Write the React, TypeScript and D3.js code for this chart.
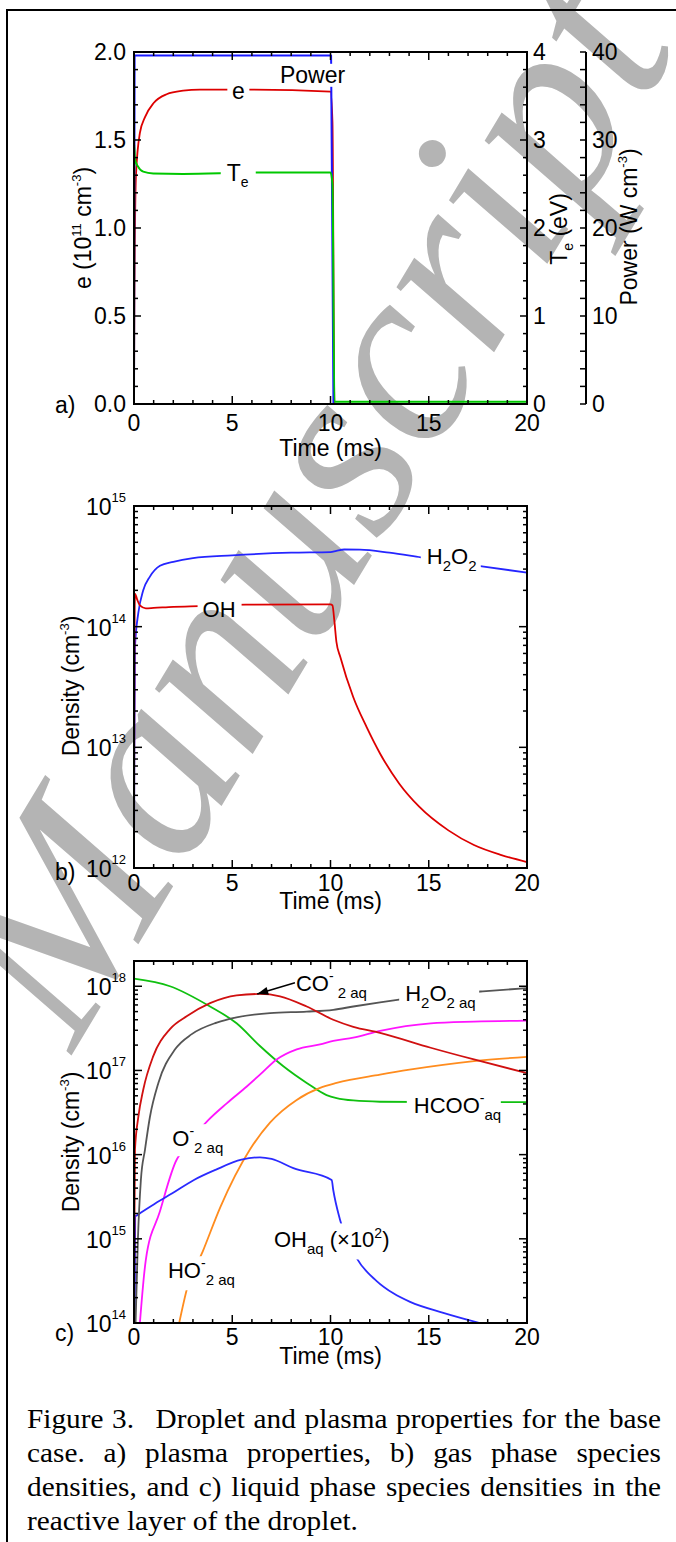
import { useLayoutEffect, useRef, useState } from "react";
import * as d3 from "d3";

const W = 676;
const H = 1542;
const SANS = "Liberation Sans, Arimo, Arial, Helvetica, sans-serif";
const SERIF = "Liberation Serif, Tinos, Times New Roman, serif";

// ---------- axes ----------
const xMajor = [0, 5, 10, 15, 20];
const eTicks = [0, 0.5, 1, 1.5, 2];
const eTickLabels = ["0.0", "0.5", "1.0", "1.5", "2.0"];
const teTicks = [0, 1, 2, 3, 4];
const powerTicks = [0, 10, 20, 30, 40];
const bDecades = [12, 13, 14, 15];
const cDecades = [14, 15, 16, 17, 18];

// ---------- a) plasma properties ----------
const eTime = [0, 0.02, 0.05, 0.1, 0.3, 0.56, 1.0, 1.66, 2.5, 3.35, 5.8, 10.0, 10.1, 10.2, 20];
const eVal = [0, 0.6, 1.0, 1.3, 1.54, 1.63, 1.71, 1.76, 1.78, 1.786, 1.786, 1.775, 1.6, 0, 0];
const teTime = [0, 0.01, 0.05, 0.2, 0.47, 0.98, 2.5, 6.2, 10.0, 10.1, 10.2, 20];
const teVal = [0, 2.95, 2.78, 2.7, 2.64, 2.62, 2.615, 2.63, 2.63, 2.5, 0.025, 0.025];
const powTime = [0, 0.03, 10.03, 10.15, 20];
const powVal = [0, 39.6, 39.6, 0, 0];

// ---------- b) gas phase ----------
const h2o2Time = [0, 0.02, 0.05, 0.22, 0.47, 0.81, 1.32, 2, 3, 5, 8, 10, 10.3, 10.7, 11.5, 13, 14.6, 17.8, 20];
const h2o2Val = [1e12, 1e13, 6.8e13, 1.3e14, 2.0e14, 2.6e14, 3.2e14, 3.45e14, 3.7e14, 3.9e14, 4.1e14, 4.15e14, 4.25e14, 4.36e14, 4.35e14, 4.1e14, 3.75e14, 3.15e14, 2.8e14];
const ohTime = [0, 0.02, 0.05, 0.15, 0.3, 0.6, 1, 2, 3.3, 5.7, 10, 10.1, 10.2, 10.3, 10.5, 11.16, 11.84, 12.52, 13.5, 14.5, 16, 17.3, 18.7, 20];
const ohVal = [1e12, 5e13, 1.88e14, 1.7e14, 1.5e14, 1.42e14, 1.43e14, 1.46e14, 1.48e14, 1.52e14, 1.53e14, 1.5e14, 1.1e14, 7.5e13, 5.6e13, 2.6e13, 1.47e13, 8.9e12, 5.0e12, 3.24e12, 2.05e12, 1.55e12, 1.28e12, 1.12e12];

// ---------- c) liquid phase ----------
const co2Time = [0, 0.02, 0.05, 0.22, 0.47, 0.98, 1.83, 2.68, 3.87, 5.22, 6.41, 7.43, 8.79, 10.14, 11.16, 12.52, 15.1, 17.3, 20];
const co2Val = [1e14, 1e15, 1.15e16, 2.8e16, 5.9e16, 1.48e17, 3.1e17, 4.4e17, 6.3e17, 7.8e17, 8.1e17, 7.6e17, 5.75e17, 4.0e17, 3.3e17, 2.8e17, 1.86e17, 1.35e17, 9.3e16];
const h2o2aqTime = [0.08, 0.2, 0.35, 0.56, 0.81, 1.24, 2.09, 2.94, 4.21, 5.22, 6.92, 8.79, 10.14, 11.16, 12.52, 13.4, 17.75, 20];
const h2o2aqVal = [1e14, 1e15, 5e15, 1.15e16, 2.8e16, 7.1e16, 1.78e17, 2.7e17, 3.7e17, 4.27e17, 4.8e17, 5.0e17, 5.25e17, 5.75e17, 6.45e17, 6.9e17, 8.7e17, 9.5e17];
const hcooTime = [0, 1.83, 3.87, 5.22, 6.41, 7.6, 8.79, 9.8, 10.31, 11.16, 12.52, 16, 20];
const hcooVal = [1.23e18, 1.0e18, 5.75e17, 3.63e17, 1.95e17, 1.12e17, 7.1e16, 5.1e16, 4.7e16, 4.4e16, 4.25e16, 4.2e16, 4.2e16];
const o2Time = [0.3, 0.6, 1.3, 2.17, 2.39, 3.78, 4.72, 5.74, 6.41, 7.26, 8.28, 9.47, 10.14, 11.16, 12.52, 15.1, 17.3, 20];
const o2Val = [1e14, 5.6e14, 2.05e15, 8.7e15, 1.05e16, 2.57e16, 4.07e16, 6.45e16, 8.9e16, 1.35e17, 1.78e17, 2.04e17, 2.24e17, 2.45e17, 2.95e17, 3.63e17, 3.8e17, 3.9e17];
const ho2Time = [2.3, 2.7, 3.5, 4.4, 5.9, 6.92, 8.28, 9.47, 10.31, 12.52, 14.02, 17.3, 20];
const ho2Val = [1e14, 2.57e14, 7.1e14, 2.4e15, 1.15e16, 2.4e16, 4.47e16, 6.2e16, 7.1e16, 8.9e16, 1.02e17, 1.29e17, 1.45e17];
const ohaqTime = [0.04, 0.06, 0.15, 0.42, 1.08, 1.95, 3.05, 4.15, 5.47, 6.41, 7.0, 8.11, 10.06, 10.14, 10.48, 11.33, 12.35, 13.2, 14.05, 15.74, 17.6, 20];
const ohaqVal = [1e14, 1.86e15, 1.9e15, 2.1e15, 2.63e15, 3.47e15, 5.0e15, 6.6e15, 8.7e15, 9.3e15, 8.9e15, 6.9e15, 5.0e15, 3.8e15, 1.7e15, 5.9e14, 3.15e14, 2.25e14, 1.78e14, 1.32e14, 1.0e14, 7.4e13];

const captionLines = [
  "Figure 3.  Droplet and plasma properties for the base",
  "case. a) plasma properties, b) gas phase species",
  "densities, and c) liquid phase species densities in the",
  "reactive layer of the droplet.",
];

// ---------- layout ----------
const X0 = 134;
const X1 = 527;
const x = d3.scaleLinear().domain([0, 20]).range([X0, X1]);

const A_TOP = 52, A_BOT = 404;
const B_TOP = 506, B_BOT = 868;
const C_TOP = 961, C_BOT = 1323;

const yE = d3.scaleLinear().domain([0, 2]).range([A_BOT, A_TOP]);
const yTe = d3.scaleLinear().domain([0, 4]).range([A_BOT, A_TOP]);
const yP = d3.scaleLinear().domain([0, 40]).range([A_BOT, A_TOP]);
const yB = d3.scaleLog().domain([1e12, 1e15]).range([B_BOT, B_TOP]);
const yC = d3.scaleLog().domain([1e14, Math.pow(10, 18.3)]).range([C_BOT, C_TOP]);

type Scale = (v: number) => number;

function Curve({ ts, vs, y, color, width = 1.8, linear = false }: { ts: number[]; vs: number[]; y: Scale; color: string; width?: number; linear?: boolean }) {
  const pts = ts.map((t, i) => [t, vs[i]] as [number, number]);
  const d = d3
    .line<[number, number]>()
    .x((p) => x(p[0]))
    .y((p) => y(p[1]))
    .curve(linear ? d3.curveLinear : d3.curveMonotoneX)(pts);
  return <path d={d ?? ""} fill="none" stroke={color} strokeWidth={width} strokeLinejoin="round" />;
}

function XAxis({ top, bot, labelY, titleY }: { top: number; bot: number; labelY: number; titleY: number }) {
  return (
    <g>
      {d3.range(0, 21).map((v) => {
        const len = xMajor.includes(v) ? 8 : 4;
        return (
          <g key={v} stroke="#000" strokeWidth={1.5}>
            <line x1={x(v)} x2={x(v)} y1={bot} y2={bot - len} />
            <line x1={x(v)} x2={x(v)} y1={top} y2={top + len} />
          </g>
        );
      })}
      {xMajor.map((v) => (
        <text key={v} x={x(v)} y={labelY} textAnchor="middle" fontSize={23}>
          {v}
        </text>
      ))}
      <text x={x(10)} y={titleY} textAnchor="middle" fontSize={23}>
        Time (ms)
      </text>
    </g>
  );
}

function LogYAxis({ y, decades }: { y: any; decades: number[] }) {
  const ticks: number[] = y.ticks();
  return (
    <g>
      {ticks.map((v, i) => {
        const major = Math.abs(Math.log10(v) - Math.round(Math.log10(v))) < 1e-6;
        const len = major ? 8 : 4;
        return (
          <g key={i} stroke="#000" strokeWidth={1.5}>
            <line x1={X0} x2={X0 + len} y1={y(v)} y2={y(v)} />
            <line x1={X1} x2={X1 - len} y1={y(v)} y2={y(v)} />
          </g>
        );
      })}
      {decades.map((p) => (
        <text key={p} x={126} y={y(Math.pow(10, p)) + 9} textAnchor="end" fontSize={23}>
          10
          <tspan dy={-13} fontSize={13}>
            {p}
          </tspan>
        </text>
      ))}
    </g>
  );
}

function Gaps({ id, boxes }: { id: string; boxes: number[][] }) {
  return (
    <mask id={id} maskUnits="userSpaceOnUse" x={0} y={0} width={W} height={H}>
      <rect x={0} y={0} width={W} height={H} fill="#fff" />
      {boxes.map((b, i) => (
        <rect key={i} x={b[0]} y={b[1]} width={b[2]} height={b[3]} fill="#000" />
      ))}
    </mask>
  );
}

function PanelA() {
  const pw = [x(7.43), yP(36.5)];
  const ee = [x(5.31), yE(1.733)];
  const te = [x(4.72), yTe(2.537)];
  return (
    <g>
      <defs>
        <clipPath id="clipA">
          <rect x={X0 - 1} y={A_TOP - 1} width={X1 - X0 + 2} height={A_BOT - A_TOP + 2} />
        </clipPath>
        <Gaps
          id="gapA"
          boxes={[
            [pw[0] - 3, pw[1] - 19, 74, 23],
            [ee[0] - 11, ee[1] - 17, 22, 20],
            [te[0] - 6, te[1] - 21, 35, 27],
          ]}
        />
      </defs>
      <g clipPath="url(#clipA)">
        <g mask="url(#gapA)">
          <Curve ts={eTime} vs={eVal} y={yE} color="#dd0000" />
          <Curve ts={powTime} vs={powVal} y={yP} color="#1a1aff" width={2} linear />
          <Curve ts={teTime} vs={teVal} y={yTe} color="#00c800" width={2} />
        </g>
      </g>
      <rect x={X0} y={A_TOP} width={X1 - X0} height={A_BOT - A_TOP} fill="none" stroke="#000" strokeWidth={2} />
      <XAxis top={A_TOP} bot={A_BOT} labelY={431} titleY={456} />
      {d3.range(0, 21).map((i) => {
        const v = i / 10;
        const len = i % 5 === 0 ? 7 : 4;
        return (
          <g key={i} stroke="#000" strokeWidth={1.5}>
            <line x1={X0} x2={X0 + len} y1={yE(v)} y2={yE(v)} />
            <line x1={X1} x2={X1 - len} y1={yE(v)} y2={yE(v)} />
            <line x1={586} x2={580} y1={yE(v)} y2={yE(v)} />
          </g>
        );
      })}
      <line x1={586} x2={586} y1={A_TOP} y2={A_BOT} stroke="#000" strokeWidth={2} />
      {eTicks.map((v, i) => (
        <text key={v} x={126} y={yE(v) + 8} textAnchor="end" fontSize={23}>
          {eTickLabels[i]}
        </text>
      ))}
      {teTicks.map((v) => (
        <text key={v} x={533} y={yTe(v) + 8} fontSize={23}>
          {v}
        </text>
      ))}
      {powerTicks.map((v) => (
        <text key={v} x={592} y={yP(v) + 8} fontSize={23}>
          {v}
        </text>
      ))}
      <text transform="translate(91,228) rotate(-90)" textAnchor="middle" fontSize={23}>
        e (10
        <tspan dy={-10} fontSize={13}>11</tspan>
        <tspan dy={10}> cm</tspan>
        <tspan dy={-10} fontSize={13}>-3</tspan>
        <tspan dy={10}>)</tspan>
      </text>
      <text transform="translate(567,229) rotate(-90)" textAnchor="middle" fontSize={23}>
        T<tspan dy={6} fontSize={14}>e</tspan>
        <tspan dy={-6}> (eV)</tspan>
      </text>
      <text transform="translate(637,227) rotate(-90)" textAnchor="middle" fontSize={23}>
        Power (W cm<tspan dy={-10} fontSize={13}>-3</tspan>
        <tspan dy={10}>)</tspan>
      </text>
      <text x={pw[0]} y={pw[1]} fontSize={23}>Power</text>
      <text x={ee[0]} y={ee[1]} fontSize={23} textAnchor="middle">e</text>
      <text x={te[0]} y={te[1]} fontSize={23}>
        T<tspan dy={6} fontSize={14}>e</tspan>
      </text>
      <text x={55} y={413} fontSize={23}>a)</text>
    </g>
  );
}

function PanelB() {
  const oh = [x(3.49), yB(1.2e14)];
  const hp = [x(14.9), yB(3.3e14)];
  return (
    <g>
      <defs>
        <clipPath id="clipB">
          <rect x={X0 - 1} y={B_TOP - 1} width={X1 - X0 + 2} height={B_BOT - B_TOP + 2} />
        </clipPath>
        <Gaps
          id="gapB"
          boxes={[
            [oh[0] - 5, oh[1] - 20, 44, 24],
            [hp[0] - 6, hp[1] - 20, 60, 29],
          ]}
        />
      </defs>
      <g clipPath="url(#clipB)">
        <g mask="url(#gapB)">
          <Curve ts={h2o2Time} vs={h2o2Val} y={yB} color="#2525ff" />
          <Curve ts={ohTime} vs={ohVal} y={yB} color="#dd0000" />
        </g>
      </g>
      <rect x={X0} y={B_TOP} width={X1 - X0} height={B_BOT - B_TOP} fill="none" stroke="#000" strokeWidth={2} />
      <XAxis top={B_TOP} bot={B_BOT} labelY={891} titleY={908.5} />
      <LogYAxis y={yB} decades={bDecades} />
      <text transform="translate(79,686) rotate(-90)" textAnchor="middle" fontSize={23}>
        Density (cm<tspan dy={-10} fontSize={13}>-3</tspan>
        <tspan dy={10}>)</tspan>
      </text>
      <text x={oh[0]} y={oh[1]} fontSize={22}>OH</text>
      <text x={hp[0]} y={hp[1]} fontSize={22}>
        H<tspan dy={7} fontSize={15}>2</tspan>
        <tspan dy={-7}>O</tspan>
        <tspan dy={7} fontSize={15}>2</tspan>
      </text>
      <text x={55} y={880} fontSize={23}>b)</text>
    </g>
  );
}

function PanelC() {
  const co = [x(8.24), yC(8.7e17)];
  const hp = [x(13.8), yC(6.6e17)];
  const hc = [x(14.24), yC(3.1e16)];
  const o2 = [x(1.95), yC(1.26e16)];
  const oh = [x(7.12), yC(7.9e14)];
  const ho = [x(1.73), yC(3.4e14)];
  const tip = [x(6.27), yC(8.1e17)];
  const tail = [x(8.19), yC(1.1e18)];
  const ang = Math.atan2(tail[1] - tip[1], tail[0] - tip[0]);
  const hl = 11, hw = 4;
  const head = [
    [tip[0], tip[1]],
    [tip[0] + hl * Math.cos(ang) - hw * Math.sin(ang), tip[1] + hl * Math.sin(ang) + hw * Math.cos(ang)],
    [tip[0] + hl * Math.cos(ang) + hw * Math.sin(ang), tip[1] + hl * Math.sin(ang) - hw * Math.cos(ang)],
  ];
  return (
    <g>
      <defs>
        <clipPath id="clipC">
          <rect x={X0 - 1} y={C_TOP - 1} width={X1 - X0 + 2} height={C_BOT - C_TOP + 2} />
        </clipPath>
        <Gaps
          id="gapC"
          boxes={[
            [hp[0] - 6, hp[1] - 20, 80, 30],
            [hc[0] - 7, hc[1] - 20, 94, 30],
            [o2[0] - 5, o2[1] - 22, 54, 32],
            [oh[0] - 4, oh[1] - 24, 128, 36],
            [ho[0] - 4, ho[1] - 22, 70, 34],
          ]}
        />
      </defs>
      <g clipPath="url(#clipC)">
        <g mask="url(#gapC)">
          <Curve ts={hcooTime} vs={hcooVal} y={yC} color="#10c010" />
          <Curve ts={ho2Time} vs={ho2Val} y={yC} color="#ff8c1e" />
          <Curve ts={o2Time} vs={o2Val} y={yC} color="#ff14ff" />
          <Curve ts={ohaqTime} vs={ohaqVal} y={yC} color="#2a2aff" />
          <Curve ts={h2o2aqTime} vs={h2o2aqVal} y={yC} color="#555555" />
          <Curve ts={co2Time} vs={co2Val} y={yC} color="#d01010" />
        </g>
      </g>
      <rect x={X0} y={C_TOP} width={X1 - X0} height={C_BOT - C_TOP} fill="none" stroke="#000" strokeWidth={2} />
      <XAxis top={C_TOP} bot={C_BOT} labelY={1345} titleY={1363.5} />
      <LogYAxis y={yC} decades={cDecades} />
      <text transform="translate(79,1142) rotate(-90)" textAnchor="middle" fontSize={23}>
        Density (cm<tspan dy={-10} fontSize={13}>-3</tspan>
        <tspan dy={10}>)</tspan>
      </text>
      <line x1={tail[0]} y1={tail[1]} x2={tip[0]} y2={tip[1]} stroke="#000" strokeWidth={1.5} />
      <polygon points={head.map((p) => p.join(",")).join(" ")} fill="#000" />
      <text x={co[0]} y={co[1]} fontSize={22}>
        CO<tspan dy={-10} fontSize={14}>-</tspan>
        <tspan dy={17} fontSize={15}> 2 aq</tspan>
      </text>
      <text x={hp[0]} y={hp[1]} fontSize={22}>
        H<tspan dy={7} fontSize={15}>2</tspan>
        <tspan dy={-7}>O</tspan>
        <tspan dy={7} fontSize={15}>2 aq</tspan>
      </text>
      <text x={hc[0]} y={hc[1]} fontSize={22}>
        HCOO<tspan dy={-10} fontSize={14}>-</tspan>
        <tspan dy={17} fontSize={15}>aq</tspan>
      </text>
      <text x={o2[0]} y={o2[1]} fontSize={22}>
        O<tspan dy={-10} fontSize={14}>-</tspan>
        <tspan dy={17} fontSize={15}>2 aq</tspan>
      </text>
      <text x={oh[0]} y={oh[1]} fontSize={22}>
        OH<tspan dy={7} fontSize={15}>aq</tspan>
        <tspan dy={-7}> (×10</tspan>
        <tspan dy={-9} fontSize={14}>2</tspan>
        <tspan dy={9}>)</tspan>
      </text>
      <text x={ho[0]} y={ho[1]} fontSize={22}>
        HO<tspan dy={-10} fontSize={14}>-</tspan>
        <tspan dy={17} fontSize={15}>2 aq</tspan>
      </text>
      <text x={55} y={1341} fontSize={23}>c)</text>
    </g>
  );
}

function tokenize(line: string) {
  const parts = line.split(" ");
  const words: string[] = [];
  const gaps: number[] = [];
  let pending = 0;
  for (const p of parts) {
    if (p === "") {
      pending++;
      continue;
    }
    if (words.length) gaps.push(1 + pending * 1.5);
    pending = 0;
    words.push(p);
  }
  return { words, gaps };
}

const CAP_LEFT = 27;
const CAP_RIGHT = 661;
const CAP_LAST_W = 331;
const CAP_BASE = [1428, 1462, 1496, 1530];

function Caption() {
  const ref = useRef<SVGGElement>(null);
  const [lay, setLay] = useState<{ sx: number; xs: number[][] } | null>(null);
  const toks = captionLines.map(tokenize);

  useLayoutEffect(() => {
    const g = ref.current;
    if (!g) return;
    const len = (k: string) => {
      const el = g.querySelector(`[data-k="${k}"]`) as SVGTextElement | null;
      return el ? el.getComputedTextLength() : 0;
    };
    const last = captionLines.length - 1;
    const sx = CAP_LAST_W / len(`full-${last}`);
    const avail = (CAP_RIGHT - CAP_LEFT) / sx;
    const xs = toks.map((tk, li) => {
      if (li === last) return [0];
      const ws = tk.words.map((_, wi) => len(`${li}-${wi}`));
      const total = d3.sum(ws);
      const unit = (avail - total) / d3.sum(tk.gaps);
      let cx = 0;
      return ws.map((w, wi) => {
        const pos = cx;
        cx += w + (tk.gaps[wi] ?? 0) * unit;
        return pos;
      });
    });
    setLay({ sx, xs });
  }, []);

  const last = captionLines.length - 1;
  return (
    <g style={{ fontFamily: SERIF }} fontSize={28}>
      <g ref={ref} visibility="hidden">
        {toks.map((tk, li) =>
          tk.words.map((w, wi) => (
            <text key={`${li}-${wi}`} data-k={`${li}-${wi}`} x={0} y={0}>
              {w}
            </text>
          )),
        )}
        <text data-k={`full-${last}`} x={0} y={0}>
          {captionLines[last]}
        </text>
      </g>
      {lay && (
        <g transform={`translate(${CAP_LEFT},0) scale(${lay.sx},1)`}>
          {toks.map((tk, li) =>
            li === last ? (
              <text key={li} x={0} y={CAP_BASE[li]}>
                {captionLines[li]}
              </text>
            ) : (
              tk.words.map((w, wi) => (
                <text key={`${li}-${wi}`} x={lay.xs[li][wi]} y={CAP_BASE[li]}>
                  {w}
                </text>
              ))
            ),
          )}
        </g>
      )}
    </g>
  );
}

function Watermark() {
  return (
    <text
      transform="translate(73,1053) rotate(-59)"
      style={{ fontFamily: SERIF }}
      fontStyle="italic"
      fontSize={255}
      fill="#b4b4b4"
    >
      Manuscript
    </text>
  );
}

export default function App() {
  return (
    <svg
      width={W}
      height={H}
      viewBox={`0 0 ${W} ${H}`}
      style={{ position: "absolute", left: 0, top: 0, background: "#fff", fontFamily: SANS }}
    >
      <rect width={W} height={H} fill="#fff" />
      <Watermark />
      <line x1={6} x2={W} y1={10} y2={10} stroke="#000" strokeWidth={2} />
      <line x1={7} x2={7} y1={10} y2={H} stroke="#000" strokeWidth={2} />
      <PanelA />
      <PanelB />
      <PanelC />
      <Caption />
    </svg>
  );
}
